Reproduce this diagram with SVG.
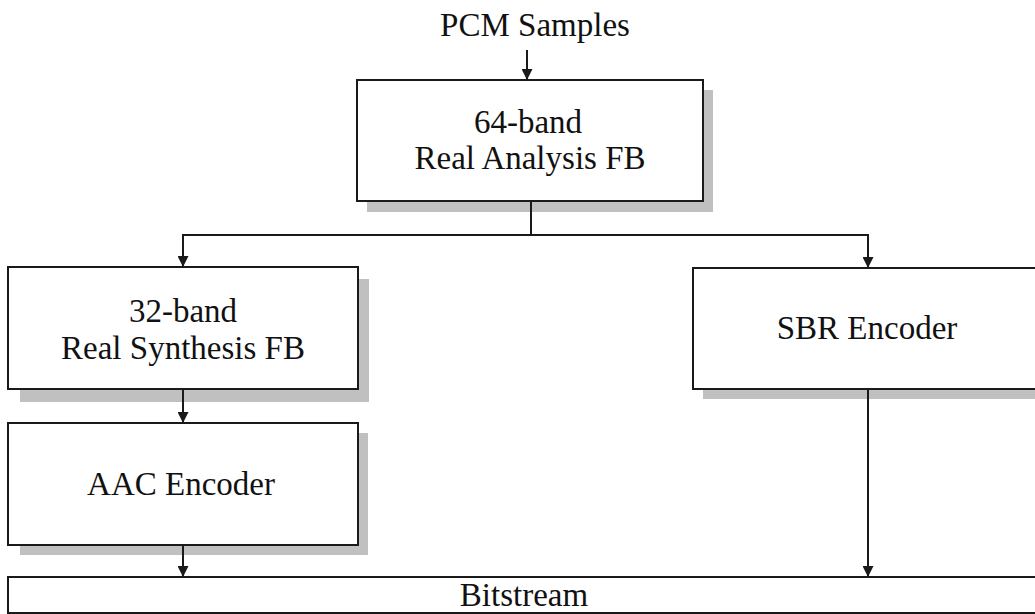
<svg xmlns="http://www.w3.org/2000/svg" width="1035" height="614" viewBox="0 0 1035 614">
  <style>
    .box { fill: #ffffff; stroke: #1a1a1a; stroke-width: 2; }
    .shadow { fill: #c0c0c0; }
    .lbl { font-family: "Liberation Serif", "Times New Roman", serif; font-size: 33px; fill: #111111; text-anchor: middle; }
    .wire { fill: none; stroke: #1a1a1a; stroke-width: 2; }
  </style>
  <defs>
    <marker id="head" viewBox="0 0 12 12" refX="12" refY="6" markerWidth="12" markerHeight="11" markerUnits="userSpaceOnUse" orient="auto">
      <path d="M0,0 L12,6 L0,12 Z" fill="#1a1a1a"/>
    </marker>
  </defs>
  <rect width="1035" height="614" fill="#ffffff"/>

  <!-- input label -->
  <g id="pcm">
    <text class="lbl" x="535" y="36">PCM Samples</text>
  </g>

  <!-- 64-band analysis filterbank -->
  <g id="analysis">
    <rect class="shadow" x="367" y="90" width="346" height="122"/>
    <rect class="box" x="357" y="80" width="346" height="121"/>
    <text class="lbl" x="528" y="133">64-band</text>
    <text class="lbl" x="530" y="169">Real Analysis FB</text>
  </g>

  <!-- 32-band synthesis filterbank -->
  <g id="synthesis">
    <rect class="shadow" x="20" y="279" width="349" height="123"/>
    <rect class="box" x="8" y="267" width="350" height="122"/>
    <text class="lbl" x="183" y="322">32-band</text>
    <text class="lbl" x="183" y="359">Real Synthesis FB</text>
  </g>

  <!-- SBR encoder -->
  <g id="sbr">
    <rect class="shadow" x="703" y="278" width="340" height="121"/>
    <rect class="box" x="693" y="268" width="350" height="121"/>
    <text class="lbl" x="867" y="339">SBR Encoder</text>
  </g>

  <!-- AAC encoder -->
  <g id="aac">
    <rect class="shadow" x="20" y="433" width="348" height="122"/>
    <rect class="box" x="8" y="423" width="350" height="122"/>
    <text class="lbl" x="181" y="495">AAC Encoder</text>
  </g>

  <!-- output bitstream -->
  <g id="bitstream">
    <rect class="box" x="8" y="577" width="1040" height="36"/>
    <text class="lbl" x="524" y="606">Bitstream</text>
  </g>

  <!-- connectors -->
  <g id="connectors">
    <line class="wire" x1="527" y1="50" x2="527" y2="80" marker-end="url(#head)"/>
    <polyline class="wire" points="531,201 531,235"/>
    <polyline class="wire" points="531,235 183,235 183,267" marker-end="url(#head)"/>
    <polyline class="wire" points="531,235 868,235 868,268" marker-end="url(#head)"/>
    <line class="wire" x1="183" y1="389" x2="183" y2="423" marker-end="url(#head)"/>
    <line class="wire" x1="183" y1="545" x2="183" y2="577" marker-end="url(#head)"/>
    <line class="wire" x1="868" y1="389" x2="868" y2="577" marker-end="url(#head)"/>
  </g>
</svg>
